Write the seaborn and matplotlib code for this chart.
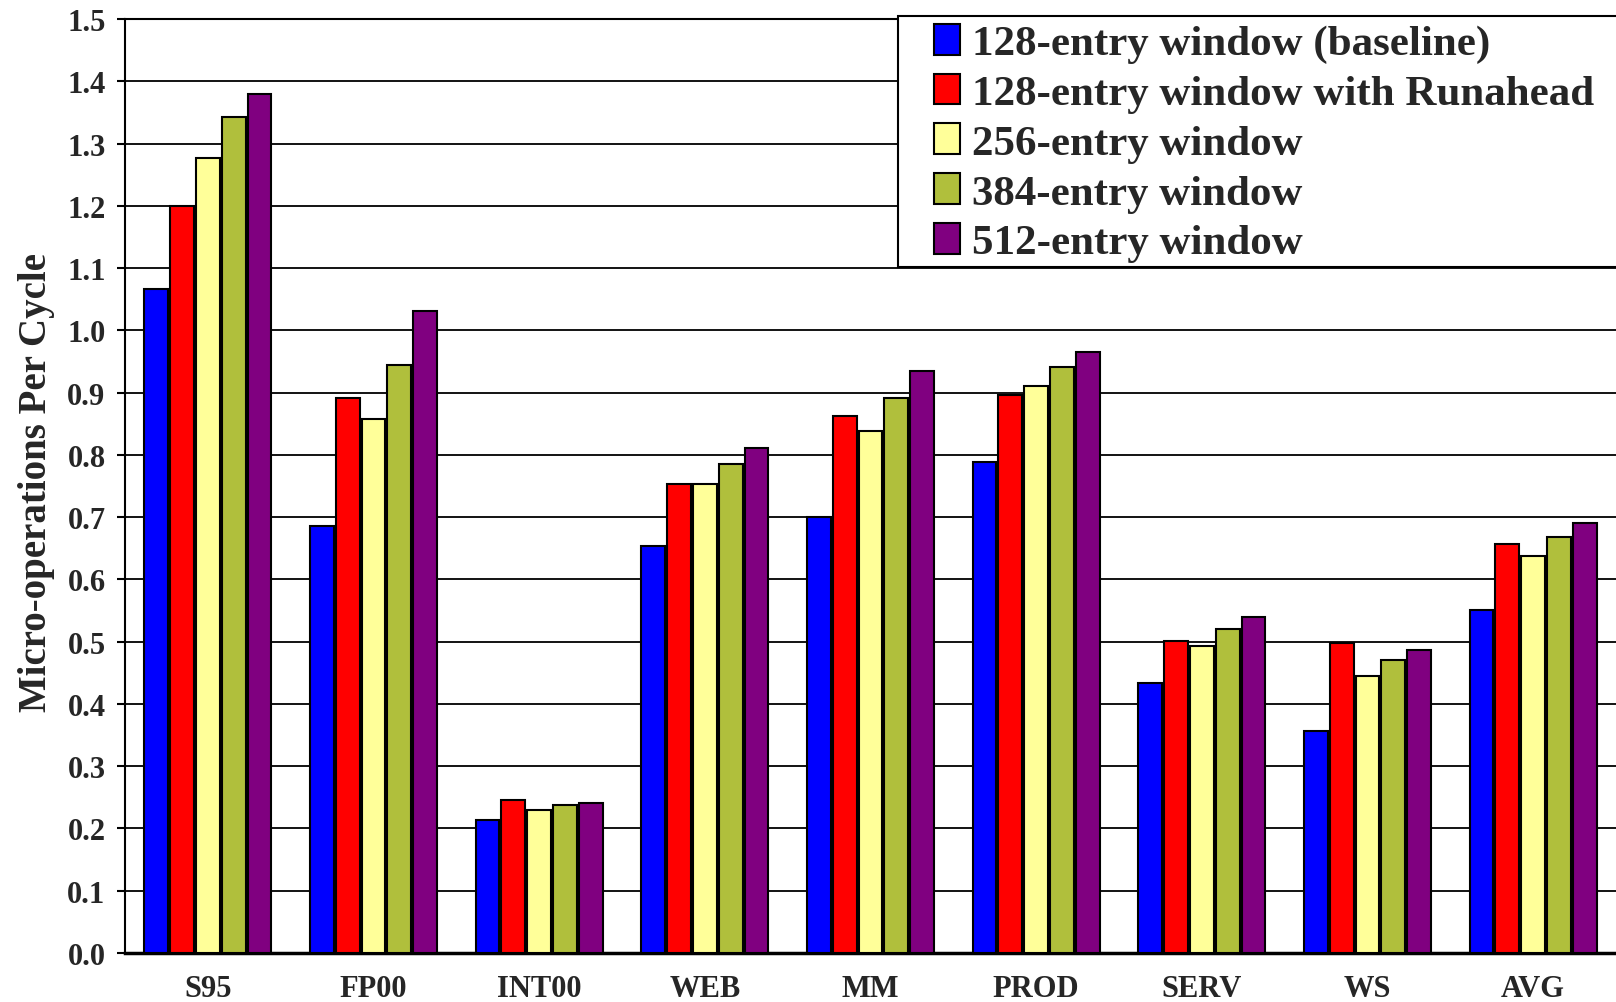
import pandas as pd
import numpy as np
import matplotlib
matplotlib.use("Agg")
import matplotlib.pyplot as plt
from matplotlib.patches import Rectangle
import seaborn as sns

### data
benchmarks = ["S95", "FP00", "INT00", "WEB", "MM", "PROD", "SERV", "WS", "AVG"]
configs = ["128-entry window (baseline)", "128-entry window with Runahead",
           "256-entry window", "384-entry window", "512-entry window"]

upc_128_base = [1.066, 0.685, 0.214, 0.654, 0.700, 0.789, 0.434, 0.356, 0.551]
upc_128_runahead = [1.200, 0.892, 0.245, 0.754, 0.862, 0.896, 0.501, 0.498, 0.657]
upc_256 = [1.277, 0.857, 0.229, 0.754, 0.838, 0.911, 0.493, 0.445, 0.637]
upc_384 = [1.342, 0.945, 0.237, 0.786, 0.892, 0.941, 0.520, 0.471, 0.668]
upc_512 = [1.380, 1.031, 0.241, 0.811, 0.934, 0.965, 0.540, 0.487, 0.691]

y_ticks = [round(0.1 * i, 1) for i in range(16)]
bar_colors = ["#0000FF", "#FF0000", "#FFFF99", "#B0BF3C", "#800080"]

# long-form table for seaborn
series = [upc_128_base, upc_128_runahead, upc_256, upc_384, upc_512]
df = pd.DataFrame({
    "benchmark": np.tile(benchmarks, len(configs)),
    "config": np.repeat(configs, len(benchmarks)),
    "upc": np.concatenate(series),
})

sns.set_style("white")
plt.rcParams["font.family"] = ["Liberation Serif", "DejaVu Serif"]
plt.rcParams["font.weight"] = "bold"

W, H = 1616, 1003
fig = plt.figure(figsize=(W / 100, H / 100), dpi=100)
ax = fig.add_axes([125 / W, 49 / H, 1491 / W, 934 / H])

sns.barplot(data=df, x="benchmark", y="upc", hue="config",
            order=benchmarks, hue_order=configs, palette=bar_colors,
            width=0.78, gap=0.08, edgecolor="black", linewidth=1.5,
            saturation=1, legend=False, ax=ax, zorder=3)

ax.set_ylim(0, 1.5)
ax.set_xlim(-0.5, 8.47)
ax.set_yticks(y_ticks)
ax.set_yticklabels([f"{t:.1f}" for t in y_ticks], fontsize=22, fontweight="bold")
ax.yaxis.grid(True, color="black", linewidth=1.3, zorder=0)
ax.set_axisbelow(True)

# ticks between groups, labels at group centres
ax.set_xticks(np.arange(-0.5, 9, 1.0))
ax.set_xticklabels([])
ax.set_xticks(np.arange(len(benchmarks)), minor=True)
ax.set_xticklabels(benchmarks, minor=True, fontsize=22, fontweight="bold")
ax.tick_params(axis="x", which="major", direction="out", length=6, width=1.5, color="black")
ax.tick_params(axis="x", which="minor", length=0, pad=15)
ax.tick_params(axis="y", direction="out", length=6, width=1.5, color="black", pad=8, left=True)

ax.set_xlabel("")
ax.set_ylabel("Micro-operations Per Cycle", fontsize=28, fontweight="bold")
ax.yaxis.set_label_coords(-0.047, 0.505)

for side in ["left", "bottom", "top"]:
    ax.spines[side].set_color("black")
    ax.spines[side].set_linewidth(1.5)
ax.spines["bottom"].set_linewidth(2.5)
ax.spines["right"].set_visible(False)

# legend, framed box running off the right edge like the original
fig.patches.append(Rectangle((898 / W, 1 - 268 / H), 740 / W, 251.5 / H,
                             transform=fig.transFigure, facecolor="white",
                             edgecolor="black", linewidth=1.5, zorder=5))
handles = [Rectangle((0, 0), 1, 1, facecolor=c, edgecolor="black", linewidth=1.5)
           for c in bar_colors]
leg = fig.legend(handles, configs, loc="upper left",
                 bbox_to_anchor=(934 / W, 1 - 25 / H),
                 frameon=False, borderpad=0, borderaxespad=0,
                 handlelength=0.6, handleheight=0.72, handletextpad=0.28,
                 labelspacing=0.24, prop={"family": "Liberation Serif",
                                          "weight": "bold", "size": 31})
leg.set_zorder(6)

fig.savefig("out.png", dpi=100)
